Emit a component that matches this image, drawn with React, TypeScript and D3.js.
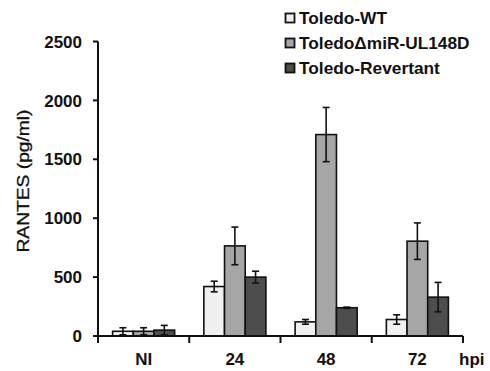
import React from "react";
import * as d3 from "d3";

const categories = ["NI", "24", "48", "72"];
const seriesNames = ["Toledo-WT", "ToledoΔmiR-UL148D", "Toledo-Revertant"];
const wtValues = [40, 420, 120, 140];
const wtErrors = [30, 45, 20, 40];
const delValues = [40, 765, 1710, 805];
const delErrors = [30, 160, 230, 155];
const revValues = [50, 500, 240, 330];
const revErrors = [40, 50, 5, 125];
const yTicks = [0, 500, 1000, 1500, 2000, 2500];
const colors = ["#f0f0f0", "#a6a6a6", "#4d4d4d"];

const values = [wtValues, delValues, revValues];
const errors = [wtErrors, delErrors, revErrors];

export default function App() {
  const W = 490, H = 371;
  const x0 = 98, x1 = 463, yTop = 41.5, yBot = 336;
  const y = d3.scaleLinear().domain([0, 2500]).range([yBot, yTop]);
  const xb = d3.scaleBand().domain(categories).range([x0, x1]).paddingInner(0.32).paddingOuter(0.16);
  const xi = d3.scaleBand().domain(seriesNames.map((_, i) => String(i))).range([0, xb.bandwidth()]);
  const step = xb.step();
  const boundaries = d3.range(categories.length + 1).map((i) => x0 + i * step);
  const font = "Liberation Sans, Arial, sans-serif";

  return (
    <svg width={W} height={H} style={{ position: "absolute", left: 0, top: 0, background: "#fff" }}>
      {categories.map((c, ci) =>
        seriesNames.map((s, si) => {
          const bx = (xb(c) as number) + (xi(String(si)) as number);
          const v = values[si][ci];
          const e = errors[si][ci];
          const cx = bx + xi.bandwidth() / 2;
          return (
            <g key={c + s}>
              <rect x={bx} y={y(v)} width={xi.bandwidth()} height={yBot - y(v)} fill={colors[si]} stroke="#111" strokeWidth={1.6} />
              <line x1={cx} x2={cx} y1={y(Math.max(0, v - e))} y2={y(v + e)} stroke="#111" strokeWidth={1.6} />
              <line x1={cx - 3.5} x2={cx + 3.5} y1={y(v + e)} y2={y(v + e)} stroke="#111" strokeWidth={1.6} />
              <line x1={cx - 3.5} x2={cx + 3.5} y1={y(Math.max(0, v - e))} y2={y(Math.max(0, v - e))} stroke="#111" strokeWidth={1.6} />
            </g>
          );
        })
      )}
      <line x1={x0} x2={x0} y1={yTop} y2={yBot} stroke="#111" strokeWidth={2} />
      {yTicks.map((t) => (
        <g key={t}>
          <line x1={x0 - 5} x2={x0} y1={y(t)} y2={y(t)} stroke="#111" strokeWidth={2} />
          <text x={82} y={y(t)} dy="0.36em" textAnchor="end" fontFamily={font} fontWeight="bold" fontSize={17} fill="#111">
            {t}
          </text>
        </g>
      ))}
      <line x1={x0} x2={x1} y1={yBot} y2={yBot} stroke="#111" strokeWidth={2} />
      {boundaries.map((b, i) => (
        <line key={i} x1={b} x2={b} y1={yBot} y2={yBot + 7} stroke="#111" strokeWidth={2} />
      ))}
      {categories.map((c) => (
        <text key={c} x={(xb(c) as number) + xb.bandwidth() / 2} y={365} textAnchor="middle" fontFamily={font} fontWeight="bold" fontSize={17} fill="#111">
          {c}
        </text>
      ))}
      <text x={459} y={365} fontFamily={font} fontWeight="bold" fontSize={17} fill="#111">hpi</text>
      <text transform={`translate(29,181) rotate(-90)`} textAnchor="middle" fontFamily={font} fontSize={16} fill="#111" stroke="#111" strokeWidth={0.3} textLength={143} lengthAdjust="spacingAndGlyphs">
        RANTES (pg/ml)
      </text>
      {seriesNames.map((s, i) => {
        const cy = 18 + i * 25;
        return (
          <g key={s}>
            <rect x={285.5} y={cy - 4.5} width={9} height={9} fill={colors[i]} stroke="#111" strokeWidth={1.8} />
            <text x={299} y={cy} dy="0.36em" fontFamily={font} fontWeight="bold" fontSize={17.3} fill="#111">
              {s}
            </text>
          </g>
        );
      })}
    </svg>
  );
}
